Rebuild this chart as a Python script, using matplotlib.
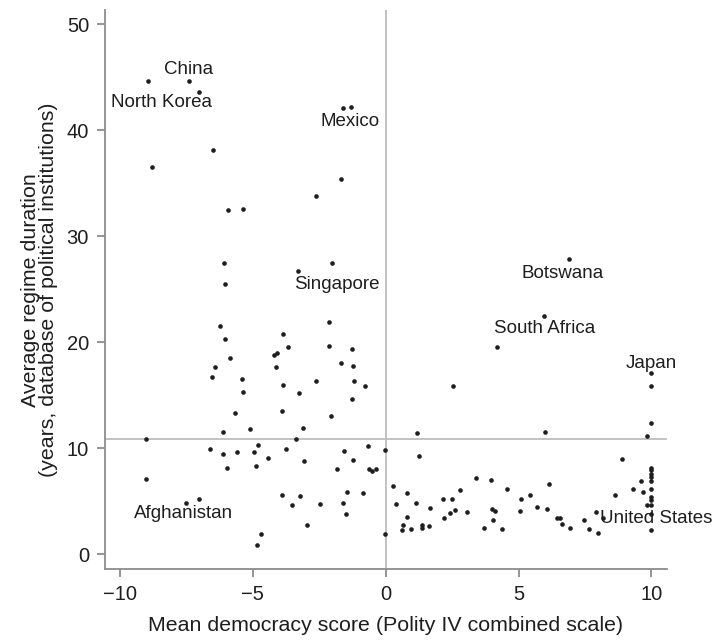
import matplotlib.pyplot as plt

plt.rcParams['font.family'] = ['Liberation Sans', 'DejaVu Sans']

# mean democracy score (Polity IV) and average regime duration per country
democracy = [
    -8.94, -7.38, -7.01, -6.48, -8.77,
    -1.61, -1.30, -1.67, -2.62,
    -5.91, -5.35, -6.08, -6.05, -6.22, -6.02, -5.86, -6.40, -6.52, -5.39, -5.38,
    -3.84, -3.68, -4.19, -4.09, -4.12, -3.86, -3.25, -3.28,
    -2.02, -2.11, -2.11, -1.26, -1.67, -1.23, -2.61, -1.18, -0.77, -1.27, 2.55,
    -3.90, -2.06, -3.11, -3.36, -3.74, -3.05, -1.55, -0.65, -0.02, -1.21, -1.83,
    -0.63, -0.52, -0.35, 1.17, 1.26, -3.90, -3.21, -3.53, -2.47, -1.46, -0.85,
    -1.59, -1.47, -2.94, -0.01, 0.28, 0.38, 0.82, 0.82, 0.67, 0.61, 0.97, 1.16,
    1.37, 1.37, 1.65, 1.66, 2.16, 2.49, 2.81, 2.20, 2.44, 2.62, 3.06, 3.39,
    -5.68, -9.02, -6.11, -5.08, -6.62, -6.12, -5.58, -4.93, -4.79, -5.96, -4.86,
    -4.44, -9.02, -7.51, -7.02, -4.70, -4.84,
    6.90, 5.96, 4.18, 10.0, 10.0,
    10.0, 9.82, 6.00, 8.89,
    10.0, 10.0, 10.0, 10.0, 10.0, 10.0, 10.0, 10.0, 10.0, 10.0, 9.82, 10.0,
    9.61, 9.29, 9.68, 8.64, 3.97, 4.56, 6.16, 5.43, 5.09, 5.70, 6.06, 5.05,
    3.99, 4.12, 4.03, 3.70, 4.38, 6.44, 6.56, 6.64, 6.94, 7.47, 7.64, 7.98,
    7.91, 8.19,
]
duration = [
    44.6, 44.6, 43.6, 38.1, 36.5,
    42.1, 42.2, 35.4, 33.8,
    32.5, 32.6, 27.5, 25.5, 21.5, 20.3, 18.5, 17.7, 16.7, 16.5, 15.3,
    20.8, 19.5, 18.8, 19.0, 17.7, 16.0, 15.2, 26.7,
    27.5, 21.9, 19.6, 19.4, 18.0, 17.8, 16.3, 16.3, 15.9, 14.6, 15.9,
    13.5, 13.0, 11.9, 10.9, 9.9, 8.8, 9.7, 10.2, 9.8, 8.9, 8.0,
    8.0, 7.9, 8.0, 11.4, 9.3, 5.6, 5.5, 4.6, 4.7, 5.9, 5.8,
    4.8, 3.8, 2.8, 1.9, 6.4, 4.7, 5.8, 3.5, 2.8, 2.3, 2.4, 4.8,
    2.8, 2.5, 2.7, 4.4, 5.2, 5.2, 6.1, 3.4, 3.9, 4.2, 4.0, 7.2,
    13.3, 10.9, 11.5, 11.8, 9.9, 9.5, 9.6, 9.6, 10.3, 8.1, 8.3,
    9.1, 7.1, 4.8, 5.2, 1.9, 0.9,
    27.8, 22.5, 19.5, 17.1, 15.9,
    12.4, 11.2, 11.5, 9.0,
    8.1, 7.95, 7.6, 7.3, 6.9, 6.2, 5.4, 5.1, 4.6, 3.8, 4.6, 2.3,
    6.9, 6.2, 5.9, 5.6, 7.0, 6.2, 6.6, 5.6, 5.2, 4.5, 4.3, 4.1,
    4.3, 4.1, 3.2, 2.5, 2.4, 3.4, 3.4, 2.9, 2.5, 3.2, 2.4, 2.0,
    4.0, 3.4,
]

# labelled countries: name, label centre x, label centre y
label_names = ['China', 'North Korea', 'Mexico', 'Singapore', 'Afghanistan',
               'Botswana', 'South Africa', 'Japan', 'United States']
label_x = [-7.42, -8.44, -1.33, -1.82, -7.61, 6.67, 5.98, 9.98, 10.17]
label_y = [45.7, 42.6, 40.8, 25.4, 3.8, 26.5, 21.3, 18.0, 3.4]

mean_duration = 10.9

fig = plt.figure(figsize=(7.13, 6.4), dpi=100)
ax = fig.add_axes([0.1473, 0.1109, 0.7877, 0.8731])

ax.axhline(mean_duration, color='#bdbdbd', lw=1.3, zorder=1)
ax.axvline(0, color='#bdbdbd', lw=1.3, zorder=1)
ax.scatter(democracy, duration, s=11, color='#1e1e1e', lw=0, zorder=3)

for name, lx, ly in zip(label_names, label_x, label_y):
    ax.text(lx, ly, name, ha='center', va='center', fontsize=13.5,
            color='#1e1e1e', zorder=4)

ax.set_xlim(-10.55, 10.57)
ax.set_ylim(-1.39, 51.3)
ax.set_xticks([-10, -5, 0, 5, 10])
ax.set_yticks([0, 10, 20, 30, 40, 50])

for side in ['top', 'right']:
    ax.spines[side].set_visible(False)
for side in ['left', 'bottom']:
    ax.spines[side].set_color('#8c8c8c')
    ax.spines[side].set_linewidth(1.3)
ax.tick_params(colors='#8c8c8c', labelcolor='#1e1e1e', length=6, width=1.3,
               labelsize=14.5, pad=5.5)

ax.set_xlabel('Mean democracy score (Polity IV combined scale)', fontsize=15.4,
              color='#1e1e1e', labelpad=9)
ax.set_ylabel('Average regime duration\n(years, database of political institutions)',
              fontsize=15.4, color='#1e1e1e', labelpad=6, linespacing=0.95)

fig.savefig('out.png', dpi=100, facecolor='white')
